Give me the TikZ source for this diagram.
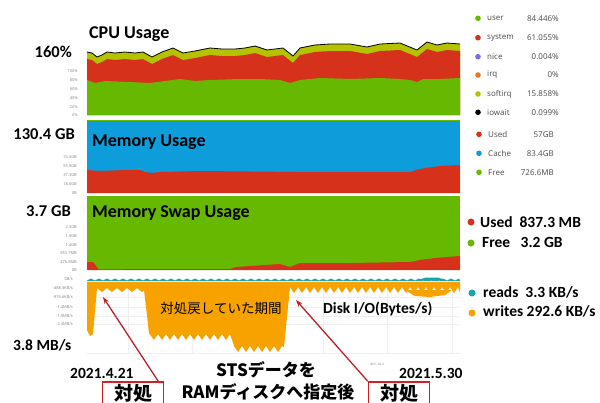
\documentclass[tikz,border=0pt]{standalone}
\usepackage{fontspec}
\setmainfont{Carlito}
\newfontfamily\cjk{Noto Sans CJK JP}
\newfontfamily\ui{Noto Sans}
\usetikzlibrary{arrows.meta}

\definecolor{cpugreen}{HTML}{66B800}
\definecolor{cpured}{HTML}{D5311B}
\definecolor{softy}{HTML}{B4C200}
\definecolor{memblue}{HTML}{0D9DDB}
\definecolor{diskor}{HTML}{F8A200}
\definecolor{readteal}{HTML}{1AA3A8}
\definecolor{nicepurple}{HTML}{7E6BF0}
\definecolor{irqorange}{HTML}{E8761E}
\definecolor{boxred}{HTML}{D0202A}
\definecolor{arrowred}{HTML}{B8222A}
\definecolor{legray}{HTML}{555555}
\definecolor{tickgray}{HTML}{8A8A8A}
\definecolor{gridc}{HTML}{EEEEEE}

\begin{document}
\begin{tikzpicture}[x=1pt, y=-1pt,
  every node/.style={inner sep=0pt},
  title/.style={font=\bfseries\fontsize{18}{20}\selectfont, anchor=base west},
  scalelab/.style={font=\bfseries\fontsize{16.5}{18}\selectfont, anchor=base east},
  bigleg/.style={font=\bfseries\fontsize{15.5}{17}\selectfont, anchor=base west},
  legtxt/.style={font=\ui\fontsize{8}{9}\selectfont, text=legray},
  tick/.style={font=\ui\fontsize{4}{5}\selectfont, text=tickgray, anchor=east},
  jp/.style={font=\cjk\bfseries\fontsize{17}{19}\selectfont},
  obox/.style={draw=boxred, line width=1.5pt, minimum width=61pt, minimum height=22pt, font=\cjk\bfseries\fontsize{19}{21}\selectfont},
  redarrow/.style={-{Stealth[length=7pt,width=5pt]}, arrowred, line width=1.3pt}]

  % Page
  \fill[white] (0,0) rectangle (600,402);
  \useasboundingbox (0,0) rectangle (600,402);

  % CPU usage chart
  \def\cputop{87/52,92/53,97/57,102/55,107/52,115/53,125/52,135/53,143/52,152/57,162/52,173/48,183/53,195/51,210/48,222/49,235/49,245/48,255/46,267/50,283/48,293/56,300/48,315/45,330/44,350/44,367/47,380/44,400/43,417/50,427/42,437/45,447/43,460/44}
  \def\cpugr{87/80,95/83,105/81,130/82,150/83,165/81,180/79,195/81,210/80,240/79,260/79,280/80,290/83,300/80,320/78,350/79,380/78,400/79,410/80,417/82,423/79,440/79,460/78}
  \fill[softy] (87,115) \foreach \x/\y in \cputop {-- (\x,\y)} -- (460,115) -- cycle;
  \fill[cpured] (87,115) \foreach \x/\y in \cputop {-- (\x,\y+7)} -- (460,115) -- cycle;
  \fill[cpugreen] (87,115) \foreach \x/\y in \cpugr {-- (\x,\y)} -- (460,115) -- cycle;
  \draw[black, line width=0.8pt] (87,52) \foreach \x/\y in \cputop {-- (\x,\y)};

  % Memory usage chart
  \def\memused{87/170,100/171,125/170,140/170,145/172,152/173,160/172,200/171,300/172,410/172,416/170,425/168,440/166,460/165}
  \fill[memblue] (87,120) rectangle (460,193);
  \fill[cpured] (87,193) \foreach \x/\y in \memused {-- (\x,\y)} -- (460,193) -- cycle;
  \fill[cpugreen] (87,120) rectangle (460,121.3);

  % Memory swap chart
  \fill[cpugreen] (87,196) rectangle (460,270);
  \fill[cpured] (87,270) -- (87,262) -- (93,262) -- (99,270) -- cycle;
  \fill[cpured] (99,270) -- (100,269.3) -- (230,269) -- (236,267) -- (280,264) -- (290,267) -- (300,263) -- (350,263) -- (410,262) -- (420,260) -- (435,258) -- (460,256) -- (460,270) -- cycle;

  % Disk I/O chart
  \foreach \x in {128,192,258,323,387,452}
    \draw[gridc] (\x,279) -- (\x,354);
  \foreach \y in {288,297,307,316,324,353}
    \draw[gridc] (87,\y) -- (460,\y);
  \fill[readteal] (87,281) \foreach \x in {87,95,...,455} {-- (\x,280.5) -- (\x+4,278.5)} -- (460,280.5) -- (460,281) -- cycle;
  \fill[readteal] (418,280) -- (426,277.5) -- (438,277.5) -- (445,280) -- cycle;
  \fill[diskor] (87,282) -- (87,330) -- (90,336) -- (93,334) -- (97,288)
    \foreach \x in {97,107,...,137} {-- (\x+5,292) -- (\x+10,288)}
    -- (144,290) -- (149,333)
    \foreach \x in {150,158,...,222} {-- (\x+4,340) -- (\x+8,334)}
    -- (234,346)
    \foreach \x in {234,242,...,274} {-- (\x+4,352) -- (\x+8,346)}
    -- (284,347) -- (290,287)
    \foreach \x in {290,298,...,450} {-- (\x+4,293) -- (\x+8,287)}
    -- (460,293) -- (460,282) -- cycle;
  \fill[diskor] (405,290) -- (415,296) -- (430,297) -- (445,295) -- (452,290) -- cycle;

  % Tick labels
  \foreach \t/\y [count=\i] in {100\%/71,80\%/80,60\%/89,40\%/98,20\%/107,0\%/115}
    \node[tick] (cputick\i) at (78,\y) {\t};
  \foreach \t/\y [count=\i] in {74.5GB/157,55.9GB/166,37.3GB/175,18.6GB/184,0B/193}
    \node[tick] (memtick\i) at (77,\y) {\t};
  \foreach \t/\y [count=\i] in {2.3GB/227,1.9GB/236,1.4GB/245,953.7MB/253,476.8MB/262,0B/270}
    \node[tick] (swaptick\i) at (77,\y) {\t};
  \foreach \t/\y [count=\i] in {{0B/s}/279,{-488.3KB/s}/288,{-976.6KB/s}/297,{-1.4MB/s}/307,{-1.9MB/s}/316,{-2.4MB/s}/324}
    \node[tick] (disktick\i) at (73,\y) {\t};
  \node[font=\ui\fontsize{3}{4}\selectfont, text=tickgray] (datetick) at (377,364) {2021-05-2};

  % Chart titles and scales
  \node[title] (cputitle) at (89,38) {CPU Usage};
  \node[scalelab] (cpumax) at (72,57) {160\%};
  \node[title] (memtitle) at (92,146) {Memory Usage};
  \node[scalelab] (memmax) at (75,139) {130.4 GB};
  \node[title] (swaptitle) at (92,217) {Memory Swap Usage};
  \node[scalelab] (swapmax) at (71,216) {3.7 GB};
  \node[bigleg] (disktitle) at (323,313) {Disk I/O(Bytes/s)};
  \node[bigleg] (diskmax) at (13,350) {3.8 MB/s};
  \node[font=\cjk\fontsize{13.5}{15}\selectfont] (period) at (221,308) {対処戻していた期間};

  % CPU legend
  \foreach \lab/\val/\col/\y [count=\i] in {user/84.446\%/cpugreen/18.3, system/61.055\%/cpured/37.7, nice/0.004\%/nicepurple/56.7, irq/0\%/irqorange/75, softirq/15.858\%/softy/94, iowait/0.099\%/black/112.3} {
    \fill[\col] (478,\y) circle (2.8);
    \node[legtxt, anchor=west] (cpulab\i) at (487,\y) {\lab};
    \node[legtxt, anchor=east] (cpuval\i) at (559,\y) {\val};
  }

  % Memory legend
  \foreach \lab/\val/\col/\y [count=\i] in {Used/57GB/cpured/134.3, Cache/83.4GB/memblue/153.3, Free/726.6MB/cpugreen/172.3} {
    \fill[\col] (479,\y) circle (2.8);
    \node[legtxt, anchor=west] (memlab\i) at (488,\y) {\lab};
    \node[legtxt, anchor=east] (memval\i) at (554,\y) {\val};
  }

  % Swap and disk legends
  \fill[cpured] (471,222) circle (3.5);
  \node[bigleg] (swapused) at (480,227) {Used\ \ 837.3 MB};
  \fill[cpugreen] (471,243) circle (3.5);
  \node[bigleg] (swapfree) at (482,247) {Free\ \ \ 3.2 GB};
  \fill[readteal] (472,293) circle (3.5);
  \node[bigleg] (reads) at (483,297) {reads\ \ 3.3 KB/s};
  \fill[diskor] (472,313) circle (3.5);
  \node[bigleg] (writes) at (483,316) {writes 292.6 KB/s};

  % Dates and notes
  \node[bigleg] (date1) at (70,378) {2021.4.21};
  \node[bigleg] (date2) at (399,378) {2021.5.30};
  \node[jp] (note1) at (266,370) {STSデータを};
  \node[jp] (note2) at (268,392) {RAMディスクへ指定後};
  \node[obox] (box1) at (133,393) {対処};
  \node[obox] (box2) at (399,393) {対処};

  % Arrows
  \coordinate (tip1) at (103,297);
  \coordinate (tip2) at (296,300);
  \draw[redarrow] ([xshift=-6pt]box1.north east) -- (tip1);
  \draw[redarrow] (box2.north west) -- (tip2);
\end{tikzpicture}
\end{document}
